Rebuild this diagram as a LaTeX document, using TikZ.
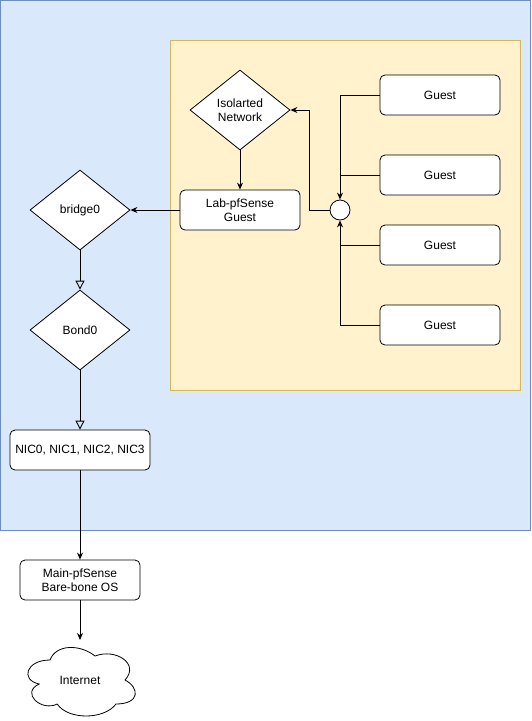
\documentclass[tikz,border=0pt]{standalone}
\usepackage{fontspec}
\setmainfont{Liberation Sans}
\usetikzlibrary{shapes.geometric,arrows.meta}
\definecolor{bluefill}{HTML}{DAE8FC}
\definecolor{bluestroke}{HTML}{6C8EBF}
\definecolor{yelfill}{HTML}{FFF2CC}
\definecolor{yelstroke}{HTML}{D6B656}
\tikzset{
  box/.style={draw=black, fill=white, rounded corners=5pt, minimum width=120pt, minimum height=40pt, align=center, inner sep=1pt, font=\fontsize{12pt}{14pt}\selectfont},
  dia/.style={draw=black, fill=white, diamond, aspect=1.25, minimum width=100pt, minimum height=80pt, inner sep=0pt, align=center, font=\fontsize{12pt}{14pt}\selectfont},
  conn/.style={draw=black, line width=0.9pt, -{Stealth[length=7pt,width=6pt]}},
  openconn/.style={draw=black, line width=0.9pt, -{Triangle[open,length=9pt,width=9pt]}},
  plain/.style={draw=black, line width=0.9pt},
}
\begin{document}
\begin{tikzpicture}[x=1pt,y=-1pt, line width=0.8pt]
\useasboundingbox (0,0) rectangle (531,721);
% containers
\draw[fill=bluefill, draw=bluestroke] (0.5,0.5) rectangle (530,530);
\draw[fill=yelfill, draw=yelstroke] (170,40) rectangle (520.5,390);
% nodes
\node[dia] (iso) at (240,110) {Isolarted\\Network};
\node[box] (lab) at (240,210) {Lab-pfSense\\Guest};
\node[draw=black, fill=white, circle, minimum size=20pt, inner sep=0pt] (hub) at (340,210) {};
\node[box] (g1) at (440,95) {Guest};
\node[box] (g2) at (440,175) {Guest};
\node[box] (g3) at (440,245) {Guest};
\node[box] (g4) at (440,325) {Guest};
\node[dia] (br) at (80,210) {bridge0};
\node[dia] (bond) at (80,330) {Bond0};
\node[box, minimum width=140pt] (nic) at (80,450) {NIC0, NIC1, NIC2, NIC3};
\node[box] (main) at (80,580) {Main-pfSense\\Bare-bone OS};
% cloud
\coordinate (net) at (80,680);
\begin{scope}[shift={(20,640)}, x=120pt, y=-80pt]
\draw[fill=white, draw=black, line width=0.8pt]
  (0.25,0.25) .. controls (0.05,0.25) and (0,0.5) .. (0.16,0.55)
  .. controls (0,0.66) and (0.18,0.9) .. (0.31,0.8)
  .. controls (0.4,1) and (0.7,1) .. (0.8,0.8)
  .. controls (1,0.8) and (1,0.6) .. (0.875,0.5)
  .. controls (1,0.3) and (0.8,0.1) .. (0.625,0.2)
  .. controls (0.5,0.05) and (0.3,0.05) .. (0.25,0.25) -- cycle;
\end{scope}
\node[font=\fontsize{12pt}{14pt}\selectfont, inner sep=0pt] (inet) at (80,680) {Internet};
\coordinate (cloudtop) at (80,640);
% connectors
\draw[conn] (g1.west) -| (hub.north);
\draw[plain] (g2.west) -- (g2.west -| hub.north);
\draw[conn] (g4.west) -| (hub.south);
\draw[plain] (g3.west) -- (g3.west -| hub.south);
\draw[conn] (hub.west) -- ++(-20,0) |- (iso.east);
\draw[conn] (iso.south) -- (lab.north);
\draw[conn] (lab.west) -- (br.east);
\draw[openconn] (br.south) -- (bond.north);
\draw[openconn] (bond.south) -- (nic.north);
\draw[conn] (nic.south) -- (main.north);
\draw[conn] (main.south) -- (cloudtop);
\end{tikzpicture}
\end{document}
